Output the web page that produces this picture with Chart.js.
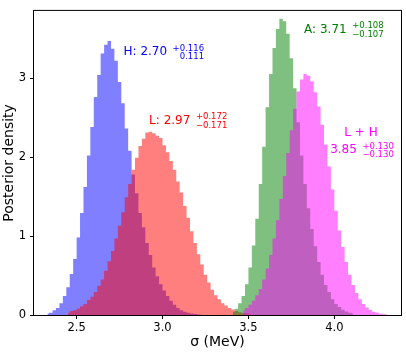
<!DOCTYPE html>
<html>
<head>
<meta charset="utf-8">
<script src="https://cdn.jsdelivr.net/npm/chart.js@4.4.1/dist/chart.umd.min.js"></script>
<style>
    html, body { margin: 0; padding: 0; background: #fff; }
</style>
</head>
<body>
<canvas id="sigma-chart" width="406" height="356"></canvas>
<script>
// histogram bins (centres), one value per bin
const binWidth = 0.02;

const hStart = 2.33;
const hValues = [0.02, 0.03, 0.06, 0.09, 0.15, 0.24, 0.35, 0.52, 0.71, 0.98,
    1.29, 1.62, 2.02, 2.38, 2.76, 3.04, 3.31, 3.42, 3.47, 3.37,
    3.22, 2.95, 2.68, 2.36, 2.08, 1.78, 1.54, 1.29, 1.11, 0.91,
    0.76, 0.60, 0.49, 0.39, 0.31, 0.24, 0.18, 0.13, 0.09, 0.06,
    0.04, 0.03, 0.02, 0.012, 0.007, 0.004];

const lStart = 2.45;
const lValues = [0.03, 0.05, 0.06, 0.08, 0.11, 0.14, 0.19, 0.23, 0.29, 0.37,
    0.45, 0.56, 0.68, 0.81, 0.97, 1.13, 1.30, 1.49, 1.66, 1.84,
    1.99, 2.14, 2.23, 2.31, 2.32, 2.30, 2.27, 2.24, 2.15, 2.06,
    1.95, 1.84, 1.69, 1.55, 1.38, 1.23, 1.06, 0.91, 0.77, 0.64,
    0.51, 0.41, 0.32, 0.25, 0.20, 0.15, 0.12, 0.09, 0.07, 0.05,
    0.036, 0.026, 0.018, 0.012];

const aStart = 3.41;
const aValues = [0.04, 0.08, 0.15, 0.24, 0.39, 0.60, 0.88, 1.22, 1.66, 2.13,
    2.63, 3.05, 3.38, 3.62, 3.75, 3.72, 3.56, 3.25, 2.87, 2.44,
    2.02, 1.66, 1.35, 1.09, 0.87, 0.67, 0.51, 0.38, 0.29, 0.20,
    0.14, 0.10, 0.065, 0.044, 0.028, 0.018];

const lhStart = 3.47;
const lhValues = [0.06, 0.09, 0.13, 0.18, 0.25, 0.33, 0.45, 0.59, 0.76, 0.97,
    1.20, 1.47, 1.76, 2.05, 2.34, 2.61, 2.83, 2.98, 3.05, 3.03,
    2.96, 2.82, 2.64, 2.41, 2.16, 1.88, 1.59, 1.32, 1.07, 0.86,
    0.67, 0.51, 0.38, 0.28, 0.20, 0.14, 0.096, 0.064, 0.042, 0.027,
    0.017, 0.011, 0.007];

const xTicks = [2.5, 3.0, 3.5, 4.0];
const yTicks = [0, 1, 2, 3];

// fit results shown on the plot
const labels = [
    { main: 'H: 2.70', up: '+0.116', down: '0.111', x: 2.773, y: 3.33, color: '#0000ff', align: 'left' },
    { main: 'L: 2.97', up: '+0.172', down: '\u22120.171', x: 2.922, y: 2.46, color: '#ff0000', align: 'left' },
    { main: 'A: 3.71', up: '+0.108', down: '\u22120.107', x: 3.824, y: 3.61, color: '#008000', align: 'left' },
    { main: '3.85', up: '+0.130', down: '\u22120.130', x: 4.161, y: 2.085, color: '#ff00ff', align: 'center', title: 'L + H', titleY: 2.31 }
];

function toPoints(start, values) {
    return values.map((v, i) => ({ x: +(start + i * binWidth).toFixed(3), y: v }));
}

const FONT = '"DejaVu Sans", sans-serif';
Chart.defaults.font.family = FONT;
Chart.defaults.color = '#000';

const framePlugin = {
    id: 'frame',
    afterDatasetsDraw(chart) {
        const { ctx, chartArea: a } = chart;
        ctx.save();
        ctx.strokeStyle = '#000';
        ctx.lineWidth = 1;
        ctx.strokeRect(a.left - 0.5, a.top - 0.5, a.right - a.left + 1, a.bottom - a.top + 1);
        ctx.restore();
    }
};

const textPlugin = {
    id: 'fitText',
    afterDatasetsDraw(chart) {
        const { ctx, scales } = chart;
        ctx.save();
        ctx.textBaseline = 'middle';
        labels.forEach(l => {
            const px = scales.x.getPixelForValue(l.x);
            const py = scales.y.getPixelForValue(l.y);
            ctx.font = '12px ' + FONT;
            const mw = ctx.measureText(l.main).width;
            ctx.font = '8.5px ' + FONT;
            const sw = Math.max(ctx.measureText(l.up).width, ctx.measureText(l.down).width);
            const gap = 5.5;
            const total = mw + gap + sw;
            const left = l.align === 'center' ? px - total / 2 : px;
            ctx.fillStyle = l.color;
            ctx.textAlign = 'left';
            ctx.font = '12px ' + FONT;
            ctx.fillText(l.main, left, py);
            ctx.font = '8.5px ' + FONT;
            ctx.textAlign = 'right';
            ctx.fillText(l.up, left + total, py - 3.6);
            ctx.fillText(l.down, left + total, py + 4.9);
            if (l.title) {
                ctx.font = '12px ' + FONT;
                ctx.textAlign = 'center';
                ctx.fillText(l.title, px - 1, scales.y.getPixelForValue(l.titleY));
            }
        });
        ctx.restore();
    }
};

function histDataset(start, values, color, order) {
    return {
        data: toPoints(start, values),
        stepped: 'middle',
        fill: 'origin',
        backgroundColor: color,
        borderColor: 'rgba(0,0,0,0)',
        borderWidth: 0,
        pointRadius: 0,
        order: order
    };
}

const ctx = document.getElementById('sigma-chart').getContext('2d');
new Chart(ctx, {
    type: 'line',
    data: {
        datasets: [
            histDataset(hStart, hValues, 'rgba(0, 0, 255, 0.5)', 4),
            histDataset(lStart, lValues, 'rgba(255, 0, 0, 0.5)', 3),
            histDataset(aStart, aValues, 'rgba(0, 128, 0, 0.5)', 2),
            histDataset(lhStart, lhValues, 'rgba(255, 0, 255, 0.5)', 1)
        ]
    },
    options: {
        responsive: false,
        animation: false,
        layout: { padding: { top: 7, right: 5, left: 0, bottom: 0 } },
        plugins: { legend: { display: false }, tooltip: { enabled: false } },
        scales: {
            x: {
                type: 'linear',
                min: 2.252,
                max: 4.388,
                afterBuildTicks: s => { s.ticks = xTicks.map(v => ({ value: v })); },
                afterFit: s => { s.height = 41; },
                grid: { drawOnChartArea: false, tickLength: 4, tickColor: '#000' },
                border: { display: false },
                ticks: { font: { size: 11.5 }, padding: 2, maxRotation: 0, callback: v => v.toFixed(1) },
                title: { display: true, text: '\u03c3 (MeV)', font: { size: 14 }, padding: { top: 0, bottom: 5 } }
            },
            y: {
                min: 0,
                max: 3.85,
                afterBuildTicks: s => { s.ticks = yTicks.map(v => ({ value: v })); },
                afterFit: s => { s.width = 34; },
                grid: { drawOnChartArea: false, tickLength: 4, tickColor: '#000' },
                border: { display: false },
                ticks: { font: { size: 11.5 }, padding: 4, callback: v => String(v) },
                title: { display: true, text: 'Posterior density', font: { size: 14 }, padding: { top: 1, bottom: 0 } }
            }
        }
    },
    plugins: [framePlugin, textPlugin]
});
</script>
</body>
</html>
